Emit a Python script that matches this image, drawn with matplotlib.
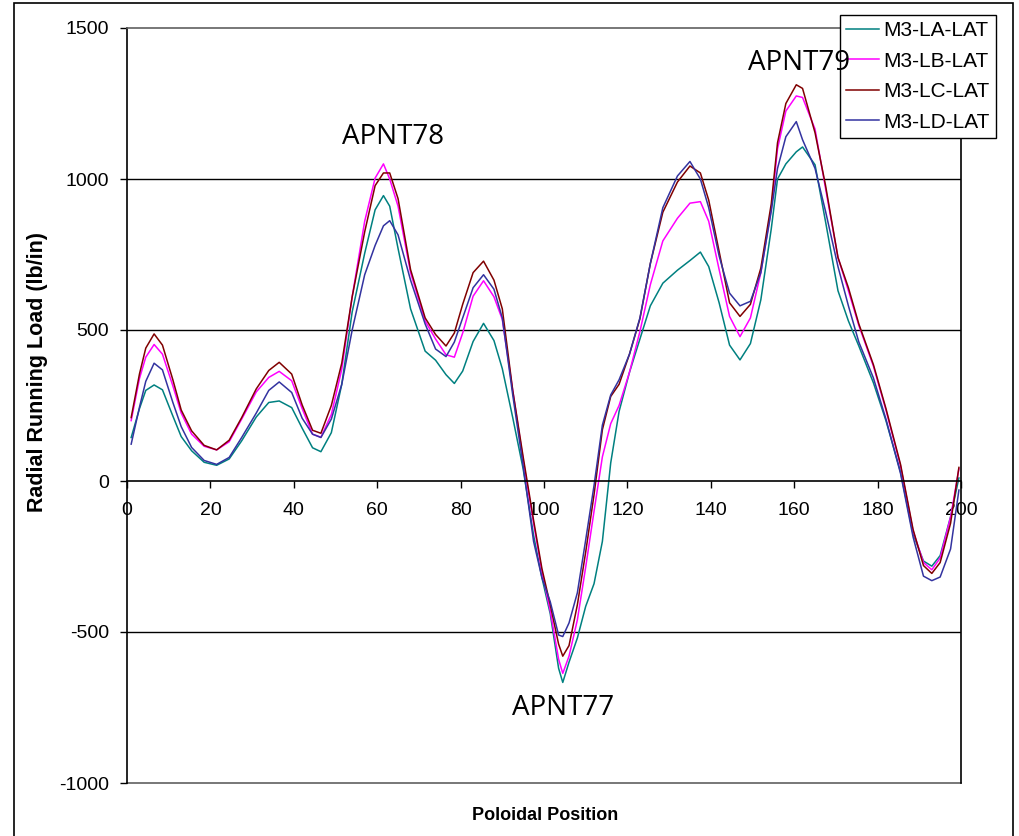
import numpy as np
import matplotlib
matplotlib.use("Agg")
from matplotlib import pyplot as plt
from matplotlib.patches import Rectangle

plt.rcParams['font.family'] = ['Liberation Sans', 'DejaVu Sans']
plt.rcParams['axes.unicode_minus'] = False

# poloidal positions where the curves were read
pos = [1, 3, 4.5, 6.5, 8.5, 11, 13, 15.5, 18.5, 21.5, 24.5, 27.5, 31, 34, 36.5,
       39.5, 42, 44.5, 46.5, 49, 51.5, 54, 57, 59.5, 61.5, 63, 65, 68, 71.5, 74,
       76.5, 78.5, 80.5, 83, 85.5, 88, 90, 92.5, 95, 97.5, 99.5, 101.5, 103.5,
       104.5, 106, 108, 110, 112, 114, 116, 118, 120.5, 123, 125.5, 128.5, 132,
       135, 137.5, 139.5, 142, 144.5, 147, 149.5, 152, 154.5, 156, 158, 160.5,
       162, 165, 167.5, 170.5, 173, 175.5, 179, 182, 185.5, 188.5, 191, 193,
       195, 197.5, 199.5]

la = [144, 240, 300, 318, 302, 215, 147, 100, 62, 52, 73, 133, 212, 260, 265,
      243, 175, 110, 97, 160, 320, 560, 754, 898, 945, 910, 770, 570, 430, 400,
      352, 323, 364, 462, 522, 465, 372, 210, 40, -180, -320, -440, -620,
      -667, -600, -520, -415, -340, -200, 60, 230, 360, 470, 580, 655, 698,
      730, 758, 710, 590, 450, 401, 455, 600, 835, 1000, 1050, 1090,
      1106, 1047, 860, 630, 530, 447, 325, 200, 30, -175, -265, -282,
      -247, -118, 10]

lb = [200, 340, 410, 452, 420, 315, 225, 155, 115, 103, 130, 205, 295, 343, 363,
      332, 240, 155, 145, 220, 370, 610, 860, 1003, 1050, 1000, 910, 690, 530, 470,
      418, 410, 490, 612, 663, 610, 535, 300, 70, -140, -300, -430, -590,
      -637, -580, -460, -285, -100, 80, 190, 250, 360, 495, 650, 795, 870,
      920, 925, 860, 700, 545, 478, 540, 690, 900, 1100, 1225, 1275,
      1270, 1165, 970, 740, 630, 515, 380, 235, 50, -165, -270, -294,
      -255, -120, 40]

lc = [210, 355, 440, 487, 450, 335, 235, 166, 118, 103, 135, 210, 305, 366, 393,
      354, 252, 168, 158, 250, 390, 610, 825, 978, 1020, 1020, 935, 700, 540, 485,
      447, 490, 585, 690, 728, 665, 570, 300, 80, -130, -290, -410, -540,
      -580, -545, -410, -235, -45, 170, 280, 320, 420, 537, 720, 890, 990,
      1043, 1020, 930, 760, 590, 545, 585, 705, 918, 1120, 1250, 1312,
      1300, 1153, 980, 740, 640, 520, 385, 240, 55, -160, -280, -306,
      -270, -140, 45]

ld = [122, 245, 330, 390, 368, 260, 180, 111, 68, 55, 78, 144, 225, 300, 328,
      293, 208, 155, 144, 205, 320, 500, 683, 780, 845, 862, 815, 665, 520, 437,
      412, 460, 540, 640, 683, 635, 540, 285, 50, -200, -320, -400, -510,
      -515, -470, -370, -195, -15, 185, 285, 335, 420, 540, 720, 905, 1010,
      1058, 1000, 905, 745, 622, 580, 595, 690, 894, 1035, 1140, 1190,
      1130, 1035, 894, 710, 580, 460, 341, 205, 25, -185, -315, -330,
      -318, -225, -30]

series = [la, lb, lc, ld]
names = ['M3-LA-LAT', 'M3-LB-LAT', 'M3-LC-LAT', 'M3-LD-LAT']
colors = ['#008080', '#FF00FF', '#800000', '#3333A0']

fig = plt.figure(figsize=(10.19, 8.36), dpi=100)
ax = fig.add_axes([127 / 1019, 1 - 783 / 836, (961 - 127) / 1019, (783 - 28) / 836])

# outer chart border
fig.patches.append(Rectangle((14 / 1019, -0.01), (1013 - 14) / 1019, 1.01 - 3.5 / 836,
                             transform=fig.transFigure, fill=False,
                             edgecolor='black', linewidth=1.2))

for vals, name, col in zip(series, names, colors):
    ax.plot(pos, vals, color=col, lw=1.1, label=name)

ax.set_xlim(0, 200)
ax.set_ylim(-1000, 1500)
ax.set_xticks(np.arange(0, 201, 20))
ax.set_yticks(np.arange(-1000, 1501, 500))

# gridlines like the spreadsheet chart
for g in [-500, 500, 1000]:
    ax.axhline(g, color='black', lw=1.0, zorder=0)
ax.axhline(-1000, color='#606060', lw=1.2, clip_on=False, zorder=0)

ax.spines['bottom'].set_position(('data', 0))
ax.spines['bottom'].set_color('black')
ax.spines['left'].set_color('black')
ax.spines['top'].set_color('#606060')
ax.spines['right'].set_color('black')
for s in ax.spines.values():
    s.set_linewidth(1.2)

ax.tick_params(axis='x', direction='out', length=5, width=1, labelsize=14, pad=10)
ax.tick_params(axis='y', direction='out', length=5, width=1, labelsize=14, pad=8)

fig.text(545 / 1019, 1 - 815 / 836, 'Poloidal Position', fontsize=13,
         fontweight='bold', ha='center', va='center')
fig.text(38 / 1019, 1 - 372 / 836, 'Radial Running Load (lb/in)', fontsize=15.5,
         fontweight='bold', ha='center', va='center', rotation=90)

# peak labels sit above the legend box, as in the original
ann = dict(fontsize=20, family=['Open Sans', 'DejaVu Sans'], ha='center',
           va='center', zorder=10)
ax.text(63.8, 1139, 'APNT78', **ann)
ax.text(161.2, 1384, 'APNT79', **ann)
ax.text(104.6, -752, 'APNT77', **ann)

leg = ax.legend(loc='upper right', bbox_to_anchor=(996 / 1019, 1 - 15 / 836),
                bbox_transform=fig.transFigure, fontsize=15, frameon=True,
                fancybox=False, edgecolor='black', framealpha=1,
                handlelength=1.6, handletextpad=0.2, labelspacing=0.55,
                borderpad=0.3, borderaxespad=0)
leg.get_frame().set_linewidth(1.0)
leg.set_zorder(5)

plt.savefig('out.png', dpi=100)
